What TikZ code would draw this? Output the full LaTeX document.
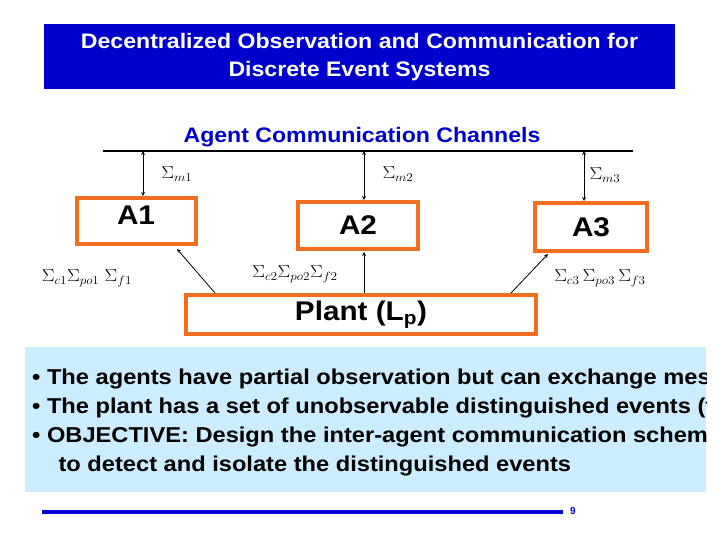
\documentclass[tikz,border=0pt]{standalone}
\usepackage{fontspec}
\usepackage{graphicx}
\setmainfont{Liberation Sans}
\usetikzlibrary{positioning}
\definecolor{titleblue}{RGB}{0,0,204}
\definecolor{boxorange}{RGB}{240,110,30}
\definecolor{notebg}{RGB}{204,236,255}
\newcommand{\wide}[1]{\scalebox{1.1}[1]{#1}}
\tikzset{
    agent/.style={
           rectangle,
           draw=boxorange, line width=4pt,
           inner sep=0pt,
           font=\fontsize{27}{30}\selectfont\bfseries,
           },
    sig/.style={font=\fontsize{17}{20}\selectfont, inner sep=0pt},
}

\begin{document}
\begin{tikzpicture}[x=1pt,y=-1pt,>=stealth]
  \useasboundingbox (0,0) rectangle (720,540);
  % title
  \node[fill=titleblue, text=white, minimum width=631pt, minimum height=65pt,
    font=\fontsize{21}{29}\selectfont\bfseries] (title) at (359.5,56.5)
    {\wide{\begin{tabular}{@{}c@{}}Decentralized Observation and Communication for\\[-1pt]
     Discrete Event Systems\end{tabular}}};
  \node[text=titleblue, font=\fontsize{21}{22}\selectfont\bfseries] (chan) at (362,137)
    {\wide{Agent Communication Channels}};
  \coordinate (busL) at (103,151);
  \coordinate (busR) at (633,151);
  \draw[line width=2pt] (busL) -- (busR);
  % agents
  \node[agent, minimum width=119pt, minimum height=46pt] (A1) at (136,221) {\raisebox{12pt}{\wide{A1}}};
  \node[agent, minimum width=120pt, minimum height=47pt] (A2) at (358,225.5) {\wide{A2}};
  \node[agent, minimum width=112pt, minimum height=48pt] (A3) at (591,227) {\wide{A3}};
  \node[agent, minimum width=350pt, minimum height=39pt] (plant) at (361,314.5) {\wide{Plant (L\textsubscript{p})}};
  % channels
  \coordinate (m1) at (143,151);
  \coordinate (m2) at (364,151);
  \coordinate (m3) at (584,151);
  \draw[<->, thick] (m1) -- (m1 |- A1.north);
  \draw[<->, thick] (m2) -- (m2 |- A2.north);
  \draw[<->, thick] (m3) -- (m3 |- A3.north);
  \node[sig] at (177,174) {\wide{$\Sigma_{m1}$}};
  \node[sig] at (398,174) {\wide{$\Sigma_{m2}$}};
  \node[sig] at (605,175) {\wide{$\Sigma_{m3}$}};
  % plant to agents
  \draw[->, thick] (plant.north -| 215,0) -- (177,249);
  \draw[->, thick] (plant.north -| 364,0) -- (364 ,252);
  \draw[->, thick] (plant.north -| 511,0) -- (548,254);
  \node[sig] at (87,278) {\wide{$\Sigma_{c1}\Sigma_{po1}\ \Sigma_{f1}$}};
  \node[sig] at (295,274) {\wide{$\Sigma_{c2}\Sigma_{po2}\Sigma_{f2}$}};
  \node[sig] at (600,278) {\wide{$\Sigma_{c3}\,\Sigma_{po3}\,\Sigma_{f3}$}};
  % notes
  \fill[notebg] (25,347) rectangle (706,492);
  \begin{scope}
    \clip (25,347) rectangle (706,492);
    \node[anchor=north west, inner sep=0pt,
      font=\fontsize{21.5}{29}\selectfont\bfseries] (notes) at (32,364)
      {\wide{\begin{tabular}{@{}l@{}}\textbullet\ The agents have partial observation but can exchange messages\\
       \textbullet\ The plant has a set of unobservable distinguished events (faults)\\
       \textbullet\ OBJECTIVE: Design the inter-agent communication scheme\\
       \hspace*{24pt}to detect and isolate the distinguished events\end{tabular}}};
  \end{scope}
  % footer
  \coordinate (footL) at (42,512);
  \coordinate (footR) at (563,512);
  \draw[titleblue, line width=4pt] (footL) -- (footR);
  \node[text=titleblue, font=\fontsize{10}{10}\selectfont\bfseries] (page) at (573,511) {9};
\end{tikzpicture}
\end{document}
